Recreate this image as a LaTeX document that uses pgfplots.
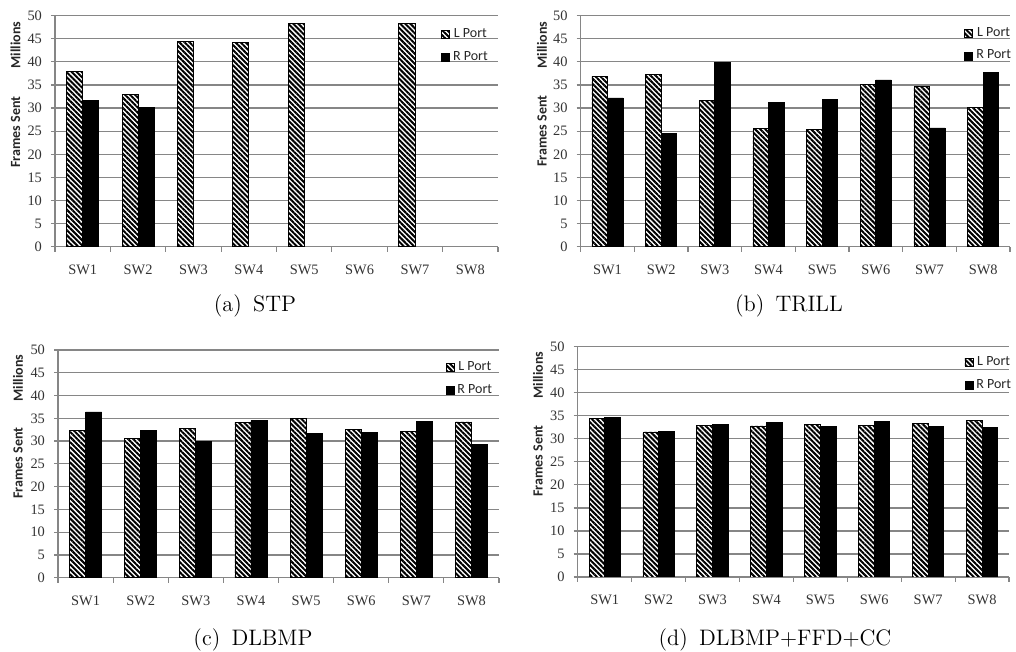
\documentclass[border=0pt]{standalone}
\usepackage{pgfplots}
\pgfplotsset{compat=1.18}
\usepackage{pgfplotstable}
\usepackage{fontspec}
\usetikzlibrary{patterns.meta}
\newfontfamily\carlito{Carlito}
\newfontfamily\tnr{Liberation Serif}
\definecolor{axgray}{RGB}{134,134,134}

\pgfplotstableread{
x L R
0 38.0 31.6
1 33.0 30.1
2 44.5 nan
3 44.2 nan
4 48.3 nan
5 nan nan
6 48.3 nan
7 nan nan
}\stp

\pgfplotstableread{
x L R
0 36.9 32.2
1 37.3 24.5
2 31.7 39.9
3 25.5 31.2
4 25.4 31.8
5 35.1 36.1
6 34.7 25.7
7 30.2 37.8
}\trill

\pgfplotstableread{
x L R
0 32.4 36.4
1 30.5 32.4
2 32.8 29.9
3 34.1 34.5
4 35.0 31.6
5 32.6 31.8
6 32.1 34.3
7 34.2 29.3
}\dlbmp

\pgfplotstableread{
x L R
0 34.5 34.7
1 31.5 31.6
2 33.0 33.2
3 32.8 33.5
4 33.1 32.6
5 33.0 33.7
6 33.3 32.6
7 33.9 32.4
}\dlbmpffd

\pgfplotsset{
  frames/.style={
    scale only axis,
    anchor=south west,
    ybar,
    bar width=0.29,
    xmin=-0.5, xmax=7.5, ymin=0, ymax=50,
    axis x line*=bottom, axis y line*=left,
    axis line style={axgray, line width=0.6pt},
    ymajorgrids=true,
    grid style={axgray, line width=0.6pt},
    ytick={0,5,...,50},
    xtick={0,...,7},
    xticklabels={SW1,SW2,SW3,SW4,SW5,SW6,SW7,SW8},
    minor xtick={-0.5,0.5,...,7.5},
    tick align=outside,
    major tick length=2pt,
    minor tick length=2.5pt,
    tick style={axgray, line width=0.6pt},
    major x tick style={draw=none},
    /pgf/number format/assume math mode=true,
    ticklabel style={font=\tnr\fontsize{7.2}{8}\selectfont, text=black!80},
    xticklabel style={yshift=-3.5pt},
    yticklabel style={xshift=-1pt},
    legend style={anchor=north west, draw=none, fill=none,
      font=\carlito\fontsize{7}{8}\selectfont, row sep=1.5pt,
      inner sep=0pt, text=black!85,
      nodes={inner xsep=1.5pt}},
  },
  lbar/.style={draw=black, line width=0.4pt, fill=white,
    postaction={pattern={Lines[angle=-45,distance=1.8pt,line width=1pt]}},
    bar shift=-0.145,
    legend image code/.code={\draw[##1] (0pt,-2pt) rectangle (4pt,2pt);}},
  rbar/.style={draw=black, line width=0.4pt, fill=black,
    bar shift=0.145,
    legend image code/.code={\draw[##1] (0pt,-2pt) rectangle (4pt,2pt);}},
}

\begin{document}
\begin{tikzpicture}
\useasboundingbox (0,0) rectangle (508pt,326pt);

% (a) STP
\begin{axis}[frames, at={(27.5pt,202.65pt)}, width=221.5pt, height=115.5pt,
  legend style={at={(0.871,0.965)}}]
\addplot[lbar] table[x=x,y=L]{\stp};
\addplot[rbar] table[x=x,y=R]{\stp};
\legend{L Port, R Port}
\end{axis}

% (b) TRILL
\begin{axis}[frames, at={(290.35pt,202.65pt)}, width=214.65pt, height=115.5pt,
  legend style={at={(0.893,0.97)}}]
\addplot[lbar] table[x=x,y=L]{\trill};
\addplot[rbar] table[x=x,y=R]{\trill};
\legend{L Port, R Port}
\end{axis}

% (c) DLBMP
\begin{axis}[frames, at={(29pt,37.15pt)}, width=220.5pt, height=113.85pt,
  legend style={at={(0.878,0.97)}}]
\addplot[lbar] table[x=x,y=L]{\dlbmp};
\addplot[rbar] table[x=x,y=R]{\dlbmp};
\legend{L Port, R Port}
\end{axis}

% (d) DLBMP+FFD+CC
\begin{axis}[frames, at={(288.85pt,37.5pt)}, width=215.65pt, height=115.15pt,
  legend style={at={(0.896,0.975)}}]
\addplot[lbar] table[x=x,y=L]{\dlbmpffd};
\addplot[rbar] table[x=x,y=R]{\dlbmpffd};
\legend{L Port, R Port}
\end{axis}

% y-axis titles
\tikzset{ylab/.style={rotate=90, font=\carlito\bfseries\fontsize{7}{8}\selectfont, text=black!85}}
\node[ylab] at (7.8pt,260pt) {Frames Sent};
\node[ylab] at (7.8pt,303.5pt) {Millions};
\node[ylab] at (271pt,260.5pt) {Frames Sent};
\node[ylab] at (271pt,303.5pt) {Millions};
\node[ylab] at (9pt,94.5pt) {Frames Sent};
\node[ylab] at (9pt,137pt) {Millions};
\node[ylab] at (269pt,95.5pt) {Frames Sent};
\node[ylab] at (269pt,138.5pt) {Millions};

% captions
\tikzset{subcap/.style={anchor=base, inner sep=0pt, font=\fontsize{11.2}{13}\selectfont}}
\node[subcap] at (127.5pt,170pt) {(a)\enspace STP};
\node[subcap] at (394.5pt,170pt) {(b)\enspace TRILL};
\node[subcap] at (126.5pt,3pt) {(c)\enspace DLBMP};
\node[subcap] at (387.5pt,3pt) {(d)\enspace DLBMP+FFD+CC};
\end{tikzpicture}
\end{document}
